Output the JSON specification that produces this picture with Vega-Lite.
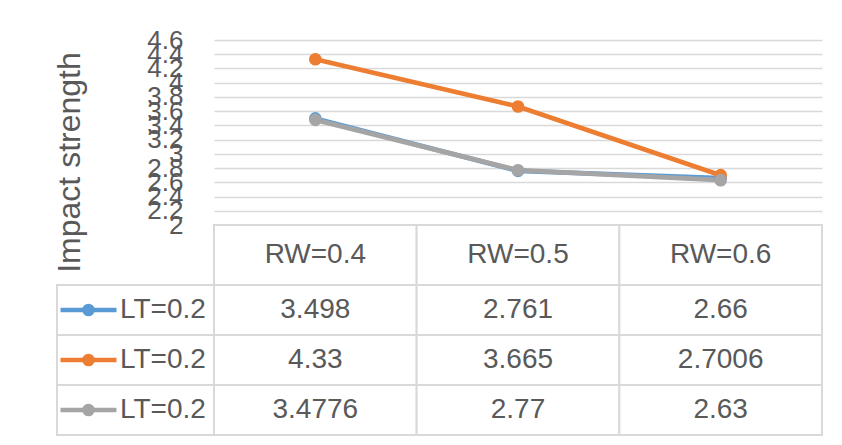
{
  "$schema": "https://vega.github.io/schema/vega-lite/v6.json",
  "background": "white",
  "padding": {"left": 51, "top": 27, "right": 10, "bottom": 5},
  "config": {
    "view": {"stroke": null},
    "font": "Liberation Sans",
    "text": {"color": "#595959"}
  },
  "datasets": {
    "vals": [
      {"rw": "RW=0.4", "series": "s1", "value": 3.498},
      {"rw": "RW=0.5", "series": "s1", "value": 2.761},
      {"rw": "RW=0.6", "series": "s1", "value": 2.66},
      {"rw": "RW=0.4", "series": "s2", "value": 4.33},
      {"rw": "RW=0.5", "series": "s2", "value": 3.665},
      {"rw": "RW=0.6", "series": "s2", "value": 2.7006},
      {"rw": "RW=0.4", "series": "s3", "value": 3.4776},
      {"rw": "RW=0.5", "series": "s3", "value": 2.77},
      {"rw": "RW=0.6", "series": "s3", "value": 2.63}
    ],
    "cats": [{"rw": "RW=0.4"}, {"rw": "RW=0.5"}, {"rw": "RW=0.6"}],
    "series": [
      {"series": "s1", "label": "LT=0.2"},
      {"series": "s2", "label": "LT=0.2"},
      {"series": "s3", "label": "LT=0.2"}
    ]
  },
  "columns": 2,
  "spacing": 0,
  "bounds": "flush",
  "align": "each",
  "concat": [
    {
      "width": 157, "height": 185,
      "data": {"values": []},
      "mark": "text"
    },
    {
      "width": 608, "height": 185,
      "data": {"name": "vals"},
      "encoding": {
        "x": {"field": "rw", "type": "nominal", "sort": null, "scale": {"type": "point", "padding": 0.5}, "axis": null},
        "y": {
          "field": "value", "type": "quantitative",
          "scale": {"domain": [2, 4.6], "nice": false, "zero": false},
          "axis": {
            "values": [2, 2.2, 2.4, 2.6, 2.8, 3, 3.2, 3.4, 3.6, 3.8, 4, 4.2, 4.4, 4.6],
            "format": "~g",
            "grid": true, "gridColor": "#d9d9d9", "gridWidth": 1.5,
            "domain": false, "ticks": false,
            "labelOverlap": false, "labelFlush": false, "labelBound": false,
            "labelFont": "Liberation Sans", "labelFontSize": 26, "labelColor": "#595959", "labelPadding": 31,
            "title": "Impact strength", "titleFont": "Liberation Sans", "titleFontSize": 32, "titleFontWeight": "normal",
            "titleColor": "#595959", "titleAngle": 270, "titleX": -135, "titleY": 122,
            "titleAlign": "center", "titleBaseline": "alphabetic"
          }
        },
        "color": {
          "field": "series", "type": "nominal",
          "scale": {"domain": ["s1", "s2", "s3"], "range": ["#5b9bd5", "#ed7d31", "#a5a5a5"]},
          "legend": null
        }
      },
      "layer": [
        {"mark": {"type": "line", "strokeWidth": 4.7}},
        {"mark": {"type": "point", "filled": true, "size": 160, "opacity": 1}}
      ]
    },
    {
      "width": 157, "height": 60,
      "data": {"values": []},
      "mark": "text"
    },
    {
      "width": 608, "height": 60,
      "data": {"name": "cats"},
      "encoding": {
        "x": {"field": "rw", "type": "nominal", "sort": null, "scale": {"type": "band", "paddingInner": 0, "paddingOuter": 0}, "axis": null}
      },
      "layer": [
        {"mark": {"type": "rect", "fill": "white", "stroke": "#d9d9d9", "strokeWidth": 2}},
        {"mark": {"type": "text", "fontSize": 28, "color": "#595959"}, "encoding": {"text": {"field": "rw"}}}
      ]
    },
    {
      "width": 157, "height": 150,
      "data": {"name": "series"},
      "encoding": {
        "y": {"field": "series", "type": "nominal", "sort": null, "scale": {"type": "band", "domain": ["s1", "s2", "s3"], "paddingInner": 0, "paddingOuter": 0}, "axis": null}
      },
      "layer": [
        {"mark": {"type": "rect", "fill": "white", "stroke": "#d9d9d9", "strokeWidth": 2}},
        {
          "mark": {"type": "point", "shape": "M-1,0H1", "size": 3136, "strokeWidth": 4.7, "filled": false, "opacity": 1},
          "encoding": {
            "x": {"datum": "key", "type": "nominal", "scale": {"type": "band", "domain": ["key", "label"], "paddingInner": 0, "paddingOuter": 0.246, "align": 0}, "axis": null},
            "color": {"field": "series", "type": "nominal", "scale": {"domain": ["s1", "s2", "s3"], "range": ["#5b9bd5", "#ed7d31", "#a5a5a5"]}, "legend": null}
          }
        },
        {
          "mark": {"type": "point", "filled": true, "size": 160, "opacity": 1},
          "encoding": {
            "x": {"datum": "key", "type": "nominal"},
            "color": {"field": "series", "type": "nominal", "legend": null}
          }
        },
        {
          "mark": {"type": "text", "align": "left", "fontSize": 28, "color": "#595959"},
          "encoding": {
            "x": {"datum": "label", "type": "nominal", "bandPosition": 0},
            "text": {"field": "label"}
          }
        }
      ]
    },
    {
      "width": 608, "height": 150,
      "data": {"name": "vals"},
      "encoding": {
        "x": {"field": "rw", "type": "nominal", "sort": null, "scale": {"type": "band", "paddingInner": 0, "paddingOuter": 0}, "axis": null},
        "y": {"field": "series", "type": "nominal", "sort": null, "scale": {"type": "band", "domain": ["s1", "s2", "s3"], "paddingInner": 0, "paddingOuter": 0}, "axis": null}
      },
      "layer": [
        {"mark": {"type": "rect", "fill": "white", "stroke": "#d9d9d9", "strokeWidth": 2}},
        {"mark": {"type": "text", "fontSize": 28, "color": "#595959"}, "encoding": {"text": {"field": "value", "type": "nominal"}}}
      ]
    }
  ]
}
